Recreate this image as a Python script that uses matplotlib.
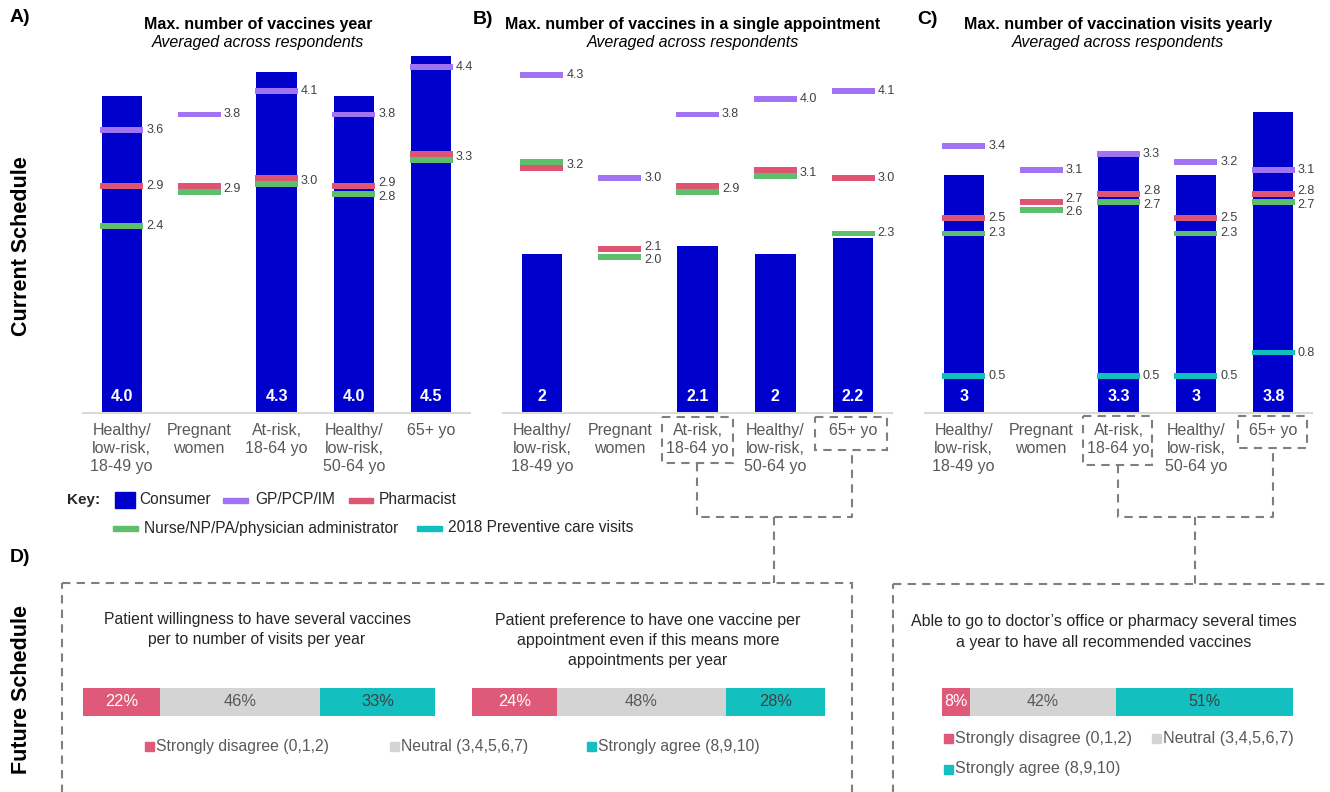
import numpy as np
import matplotlib
matplotlib.use("Agg")
import matplotlib.pyplot as plt
from matplotlib import font_manager as fm
from matplotlib.patches import Rectangle

# ---------------- data ----------------
nan = np.nan
categories = ["Healthy/\nlow-risk,\n18-49 yo", "Pregnant\nwomen", "At-risk,\n18-64 yo",
              "Healthy/\nlow-risk,\n50-64 yo", "65+ yo"]

a_consumer = [4.0, nan, 4.3, 4.0, 4.5]
a_consumer_labels = ["4.0", "", "4.3", "4.0", "4.5"]
a_gp = [3.6, 3.8, 4.1, 3.8, 4.4]
a_pharm = [2.9, 2.9, 3.0, 2.9, 3.3]
a_nurse = [2.4, 2.9, 3.0, 2.8, 3.3]
a_prev = [nan, nan, nan, nan, nan]

b_consumer = [2, nan, 2.1, 2, 2.2]
b_consumer_labels = ["2", "", "2.1", "2", "2.2"]
b_gp = [4.3, 3.0, 3.8, 4.0, 4.1]
b_pharm = [3.2, 2.1, 2.9, 3.1, 3.0]
b_nurse = [3.2, 2.0, 2.9, 3.1, 2.3]
b_prev = [nan, nan, nan, nan, nan]

c_consumer = [3, nan, 3.3, 3, 3.8]
c_consumer_labels = ["3", "", "3.3", "3", "3.8"]
c_gp = [3.4, 3.1, 3.3, 3.2, 3.1]
c_pharm = [2.5, 2.7, 2.8, 2.5, 2.8]
c_nurse = [2.3, 2.6, 2.7, 2.3, 2.7]
c_prev = [0.5, nan, 0.5, 0.5, 0.8]

series_names = ["Consumer", "GP/PCP/IM", "Pharmacist",
                "Nurse/NP/PA/physician administrator", "2018 Preventive care visits"]

d_categories = ["Strongly disagree (0,1,2)", "Neutral (3,4,5,6,7)", "Strongly agree (8,9,10)"]
d_willing = [22, 46, 33]
d_one_per_appt = [24, 48, 28]
d_able = [8, 42, 51]

# ---------------- style ----------------
BLUE = "#0000CC"
PURPLE = "#A274F4"
RED = "#DD5573"
GREEN = "#5DBE6B"
CYAN = "#12BFBF"
D_PINK = "#DE5A78"
D_GRAY = "#D4D4D4"
D_TEAL = "#14BFBF"
DASH = "#7F7F7F"


def has_font(name):
    try:
        fm.findfont(fm.FontProperties(family=name), fallback_to_default=False)
        return True
    except Exception:
        return False


SANS = "Liberation Sans" if has_font("Liberation Sans") else "DejaVu Sans"
plt.rcParams["font.family"] = [SANS, "DejaVu Sans"]

W, H = 1330, 792
fig = plt.figure(figsize=(W / 100, H / 100), dpi=100)


def px_rect(x0, y0, x1, y1):
    return [x0 / W, 1 - y1 / H, (x1 - x0) / W, (y1 - y0) / H]


ov = fig.add_axes([0, 0, 1, 1])
ov.set_xlim(0, W)
ov.set_ylim(H, 0)
ov.axis("off")

MH = 0.075     # marker thickness (data units)
LGAP = 0.17    # min label gap
YTOP = 4.55


def draw_panel(rect, consumer, clabels, gp, pharm, nurse, prev, nurse_top=()):
    ax = fig.add_axes(px_rect(*rect))
    ax.set_facecolor("none")
    x = np.arange(len(categories))
    ax.bar(x, consumer, width=0.52, color=BLUE, zorder=2)
    for i, lab in enumerate(clabels):
        if lab:
            ax.text(i, 0.21, lab, ha="center", va="center", color="white",
                    fontweight="bold", fontsize=11.5, zorder=6)
    series = [("gp", gp, PURPLE), ("pharm", pharm, RED), ("nurse", nurse, GREEN), ("prev", prev, CYAN)]
    for i in range(len(categories)):
        entries = []
        for k, (name, vals, col) in enumerate(series):
            v = vals[i]
            if not np.isnan(v):
                rank = -1 if (name == "nurse" and i in nurse_top) else k
                entries.append((v, rank, col))
        entries.sort(key=lambda e: (-e[0], e[1]))
        prev_bottom = np.inf
        groups = []
        for v, r, col in entries:
            top = min(v, prev_bottom)
            ax.bar(i, MH, bottom=top - MH, width=0.555, color=col, zorder=3)
            prev_bottom = top - MH
            c = top - MH / 2
            if groups and groups[-1][0] == v:
                groups[-1][1].append(c)
            else:
                groups.append([v, [c]])
        ys = [float(np.mean(g[1])) for g in groups]
        for j in range(1, len(ys)):
            if ys[j - 1] - ys[j] < LGAP:
                mid = (ys[j - 1] + ys[j]) / 2
                ys[j - 1] = mid + LGAP / 2
                ys[j] = mid - LGAP / 2
        for g, y in zip(groups, ys):
            ax.text(i + 0.315, y, f"{g[0]:.1f}", ha="left", va="center",
                    fontsize=9, color="#404040", zorder=6)
    ax.set_xlim(-0.5, len(categories) - 0.5)
    ax.set_ylim(0, YTOP)
    ax.set_xticks(x, categories)
    ax.tick_params(axis="x", length=0, pad=7, labelsize=11.5, labelcolor="#595959")
    for t in ax.get_xticklabels():
        t.set_linespacing(1.27)
    ax.set_yticks([])
    for s in ["left", "top", "right"]:
        ax.spines[s].set_visible(False)
    ax.spines["bottom"].set_color("#D9D9D9")
    ax.spines["bottom"].set_linewidth(1.5)
    return ax


draw_panel((83, 52, 470, 413), a_consumer, a_consumer_labels, a_gp, a_pharm, a_nurse, a_prev)
draw_panel((503, 52, 892, 413), b_consumer, b_consumer_labels, b_gp, b_pharm, b_nurse, b_prev, nurse_top=(0,))
draw_panel((925, 52, 1312, 413), c_consumer, c_consumer_labels, c_gp, c_pharm, c_nurse, c_prev)

# titles
titles = [(258, "Max. number of vaccines year"),
          (693, "Max. number of vaccines in a single appointment"),
          (1118, "Max. number of vaccination visits yearly")]
for xc, t in titles:
    ov.text(xc, 24, t, ha="center", va="center", fontweight="bold", fontsize=11.5)
    ov.text(xc, 42, "Averaged across respondents", ha="center", va="center",
            style="italic", fontsize=11.5)

for xl, yl, s in [(10, 18, "A)"), (473, 20, "B)"), (917, 20, "C)"), (10, 557, "D)")]:
    ov.text(xl, yl, s, ha="left", va="center", fontweight="bold", fontsize=14)

ov.text(22, 246, "Current Schedule", rotation=90, ha="center", va="center",
        fontweight="bold", fontsize=15.5)
ov.text(22, 690, "Future Schedule", rotation=90, ha="center", va="center",
        fontweight="bold", fontsize=15.5)

# key legend
KFS = 11.2
KC = "#262626"
ov.text(67, 500, "Key:", ha="left", va="center", fontweight="bold", fontsize=11, color=KC)
ov.add_patch(Rectangle((115, 492), 20, 16, color=BLUE))
ov.text(139, 500, series_names[0], ha="left", va="center", fontsize=KFS, color=KC)
ov.add_patch(Rectangle((223, 497.5), 25, 5, color=PURPLE))
ov.text(255, 500, series_names[1], ha="left", va="center", fontsize=KFS, color=KC)
ov.add_patch(Rectangle((349, 497.5), 24, 5, color=RED))
ov.text(379, 500, series_names[2], ha="left", va="center", fontsize=KFS, color=KC)
ov.add_patch(Rectangle((113, 525.5), 25, 5, color=GREEN))
ov.text(144, 528, series_names[3], ha="left", va="center", fontsize=KFS, color=KC)
ov.add_patch(Rectangle((417, 525.5), 25, 5, color=CYAN))
ov.text(448, 528, series_names[4], ha="left", va="center", fontsize=KFS, color=KC)

# dashed highlight boxes and connectors
dkw = dict(fill=False, edgecolor=DASH, linewidth=1.5, linestyle=(0, (4, 3)))
lkw = dict(color=DASH, linewidth=1.5, linestyle=(0, (4, 3)))
ov.add_patch(Rectangle((662, 417), 71, 46, **dkw))
ov.add_patch(Rectangle((815, 417), 72, 33, **dkw))
ov.plot([697, 697, 852, 852], [463, 517, 517, 450], **lkw)
ov.plot([774, 774], [517, 583], **lkw)
ov.add_patch(Rectangle((1083, 416), 69, 49, **dkw))
ov.add_patch(Rectangle((1238, 416), 69, 32, **dkw))
ov.plot([1118, 1118, 1273, 1273], [465, 517, 517, 448], **lkw)
ov.plot([1195, 1195], [517, 584], **lkw)
ov.add_patch(Rectangle((62, 583), 790, 230, **dkw))
ov.add_patch(Rectangle((893, 584), 440, 230, **dkw))

# future schedule bars
D_COLORS = [D_PINK, D_GRAY, D_TEAL]
D_TXT = ["white", "#595959", "#404040"]


def stacked(rect, vals, fs):
    ax = fig.add_axes(px_rect(*rect))
    left = 0
    for v, col, tc in zip(vals, D_COLORS, D_TXT):
        ax.barh(0, v, left=left, height=1.0, color=col)
        ax.text(left + v / 2, 0, f"{v}%", ha="center", va="center", color=tc, fontsize=fs)
        left += v
    ax.set_xlim(0, sum(vals))
    ax.set_ylim(-0.5, 0.5)
    ax.axis("off")


stacked((83, 688, 435, 716), d_willing, 11.8)
stacked((472, 688, 825, 716), d_one_per_appt, 11.8)
stacked((942, 688, 1293, 716), d_able, 11.5)

ov.text(257, 629.5, "Patient willingness to have several vaccines\nper to number of visits per year",
        ha="center", va="center", fontsize=11.3, color="#262626", linespacing=1.38)
ov.text(648, 640.5, "Patient preference to have one vaccine per\nappointment even if this means more\nappointments per year",
        ha="center", va="center", fontsize=11.5, color="#262626", linespacing=1.45)
ov.text(1104, 632, "Able to go to doctor\u2019s office or pharmacy several times\na year to have all recommended vaccines",
        ha="center", va="center", fontsize=11.5, color="#262626", linespacing=1.42)


def legend_item(x, y, col, text, fs):
    ov.add_patch(Rectangle((x, y - 4.5), 9, 9, color=col))
    ov.text(x + 11, y, text, ha="left", va="center", fontsize=fs, color="#595959")


legend_item(145, 746, D_PINK, d_categories[0], 11.3)
legend_item(390, 746, D_GRAY, d_categories[1], 11.3)
legend_item(587, 746, D_TEAL, d_categories[2], 11.3)
legend_item(944, 738, D_PINK, d_categories[0], 11.6)
legend_item(1152, 738, D_GRAY, d_categories[1], 11.6)
legend_item(944, 769, D_TEAL, d_categories[2], 11.6)

fig.savefig("out.png", dpi=100, facecolor="white")
